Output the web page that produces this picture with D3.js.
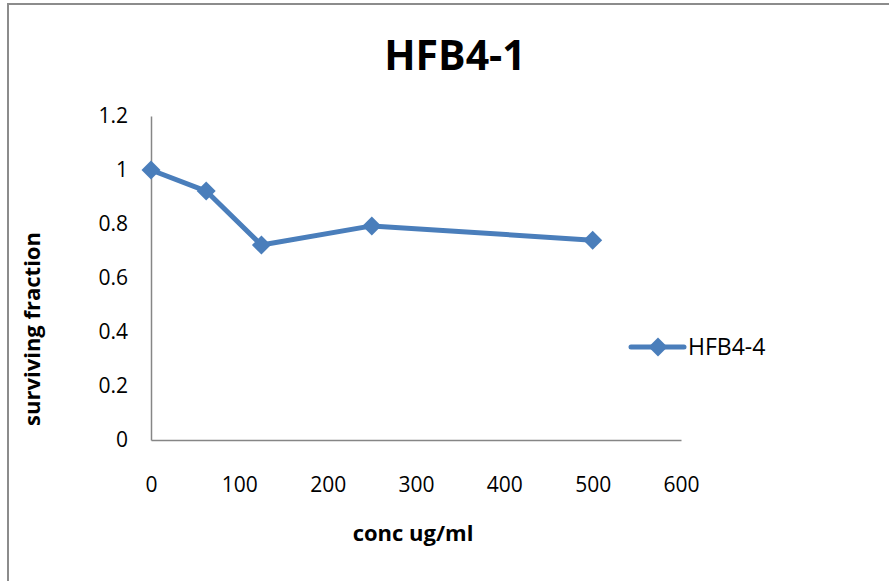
<!DOCTYPE html>
<html>
<head>
<meta charset="utf-8">
<script src="https://cdn.jsdelivr.net/npm/d3@7"></script>
<style>
  body { margin: 0; background: #fff; }
  svg { display: block; font-family: "Open Sans", sans-serif; }
</style>
</head>
<body>
<svg id="chart" width="889" height="581"></svg>
<script>
const concs = [0, 62.5, 125, 250, 500];
const fractions = [1, 0.922, 0.722, 0.793, 0.74];
const xTicks = [0, 100, 200, 300, 400, 500, 600];
const yTicks = [0, 0.2, 0.4, 0.6, 0.8, 1, 1.2];
const seriesName = "HFB4-4";

const svg = d3.select("#chart");
const color = "#4a7ebb";

// chart frame (right and bottom edges fall outside the picture)
svg.append("rect")
    .attr("x", 8).attr("y", 4)
    .attr("width", 900).attr("height", 600)
    .attr("fill", "#fff")
    .attr("stroke", "#8c8c8c")
    .attr("stroke-width", 2);

const x = d3.scaleLinear().domain([0, 600]).range([151, 681]);
const y = d3.scaleLinear().domain([0, 1.2]).range([440, 116]);

svg.append("text")
    .attr("x", 455).attr("y", 70)
    .attr("text-anchor", "middle")
    .attr("font-size", 41).attr("font-weight", "bold")
    .text("HFB4-1");

// axes
const xAxis = svg.append("g")
    .attr("transform", "translate(0,440)")
    .call(d3.axisBottom(x).tickValues(xTicks).tickSize(0).tickPadding(37).tickFormat(d3.format("d")));
const yAxis = svg.append("g")
    .attr("transform", "translate(151,0)")
    .call(d3.axisLeft(y).tickValues(yTicks).tickSize(0).tickPadding(23).tickFormat(d => String(+d.toFixed(1))));

[xAxis, yAxis].forEach(g => {
    g.select(".domain").attr("stroke", "#868686").attr("stroke-width", 1.5);
    g.selectAll("text").attr("font-size", 21).attr("fill", "#000")
        .attr("font-family", '"Open Sans", sans-serif');
});

svg.append("text")
    .attr("x", 413).attr("y", 541)
    .attr("text-anchor", "middle")
    .attr("font-size", 22).attr("font-weight", "bold")
    .text("conc ug/ml");

svg.append("text")
    .attr("transform", "translate(40,329) rotate(-90)")
    .attr("text-anchor", "middle")
    .attr("font-size", 22).attr("font-weight", "bold")
    .text("surviving fraction");

// series
const pts = concs.map((c, i) => [c, fractions[i]]);
svg.append("path")
    .datum(pts)
    .attr("fill", "none")
    .attr("stroke", color)
    .attr("stroke-width", 5)
    .attr("stroke-linejoin", "round")
    .attr("d", d3.line().x(d => x(d[0])).y(d => y(d[1])));

const diamond = d3.symbol().type(d3.symbolDiamond2).size(230);
svg.selectAll(".pt")
    .data(pts)
    .join("path")
    .attr("class", "pt")
    .attr("transform", d => `translate(${x(d[0])},${y(d[1])})`)
    .attr("fill", color)
    .attr("d", diamond);

// legend
const lg = svg.append("g").attr("transform", "translate(631,347)");
lg.append("line")
    .attr("x1", 0).attr("x2", 53)
    .attr("stroke", color).attr("stroke-width", 5).attr("stroke-linecap", "round");
lg.append("path").attr("transform", "translate(27,0)").attr("fill", color).attr("d", diamond);
lg.append("text")
    .attr("x", 57).attr("y", 8)
    .attr("font-size", 23)
    .text(seriesName);
</script>
</body>
</html>
